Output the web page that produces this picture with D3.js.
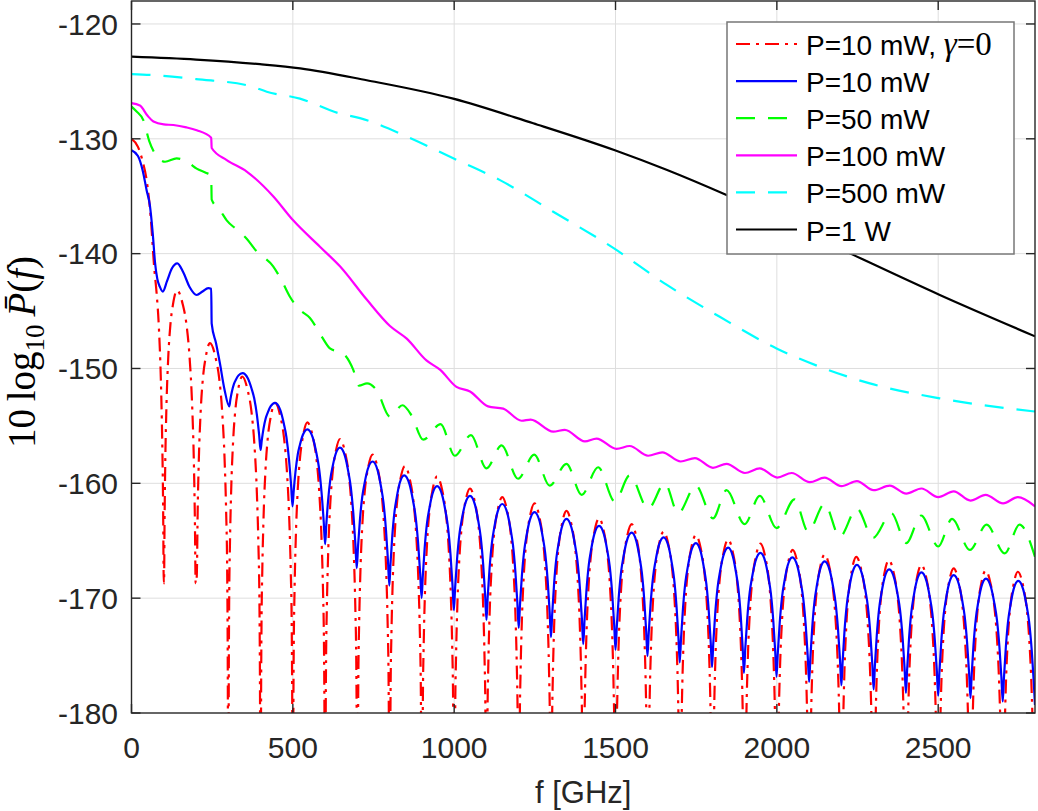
<!DOCTYPE html>
<html>
<head>
<meta charset="utf-8">
<script src="https://cdn.jsdelivr.net/npm/d3@7"></script>
<style>
body { margin: 0; background: #fff; }
svg { display: block; }
</style>
</head>
<body>
<svg width="1038" height="811"></svg>
<script>
/* ---------- values ---------- */
const xTicks = [0, 500, 1000, 1500, 2000, 2500];
const yTicks = [-180, -170, -160, -150, -140, -130, -120];

/* P=10 mW, gamma=0 (red): start of the main lobe, then nulls and lobe peaks */
const redHeadF  = [0, 20, 35, 47, 60, 70, 78, 85, 91, 95, 98];
const redHeadDb = [-130, -130.7, -132, -133.6, -137, -141.1, -143.5, -146.5, -151, -156, -162];
const redNullF = [100, 200, 300, 400, 500, 600, 700, 800, 900, 1000, 1100, 1200, 1300, 1400,
  1500, 1600, 1700, 1800, 1900, 2000, 2100, 2200, 2300, 2400, 2500, 2600, 2700, 2800];
const RED_FLOOR = -240;               // nulls that run off the bottom of the axes
const redNullDb = redNullF.map((f, i) => i < 2 ? -168.7 : RED_FLOOR);
const redPeakF = [141, 243, 343, 445, 545, 646, 747, 847, 947, 1049, 1149, 1249, 1348, 1449,
  1550, 1649, 1749, 1849, 1949, 2049, 2148, 2246, 2347, 2448, 2548, 2647, 2747];
const redPeakDb = [-143.2, -147.8, -150.7, -153.0, -154.7, -156.15, -157.5, -158.5, -159.4, -160.45,
  -161.2, -161.75, -162.4, -163.05, -163.55, -164.2, -164.5, -164.9, -165.25, -165.8, -166.2,
  -166.4, -166.7, -167.1, -167.4, -167.6, -167.7];
/* shape of one red lobe side: fraction of the way null->peak, dB below the peak */
const redSideT    = [0.02, 0.06, 0.12, 0.2, 0.34, 0.5, 0.7];
const redSideDrop = [-34, -20, -14.5, -10.2, -5.8, -3.0, -1.2];

/* P=10 mW (blue): head up to the step, then troughs and peaks */
const blueHeadF  = [0, 20, 35, 47, 57, 66, 73, 80, 88, 97, 110, 125, 142, 160, 180, 202, 220, 238, 247, 248.5, 262, 274, 288];
const blueHeadDb = [-131, -131.5, -132.8, -134.5, -135.8, -138.3, -140.8, -142.2, -142.9, -143.3, -142.4, -141.3,
  -140.85, -141.6, -142.9, -143.6, -143.3, -143.0, -143.05, -146.1, -147.8, -149.55, -151.8];
const blueTroughF = [303, 400, 499, 600, 698, 799, 899, 999, 1100, 1200, 1300, 1400, 1500, 1599,
  1699, 1799, 1898, 1999, 2100, 2200, 2300, 2400, 2500, 2600, 2700, 2800];
const blueTroughDb = [-153.3, -157.1, -162.0, -165.3, -167.4, -168.9, -170.0, -171.05, -171.9, -172.6,
  -173.4, -174.0, -174.5, -175.05, -175.6, -176.0, -176.5, -176.85, -177.3, -177.6, -177.95,
  -178.25, -178.5, -178.7, -179.0, -179.3];
const bluePeakF = [344, 445, 545, 646, 747, 845, 947, 1049, 1149, 1249, 1348, 1449, 1550, 1649,
  1749, 1849, 1949, 2048, 2148, 2248, 2348, 2448, 2548, 2648, 2748];
const bluePeakDb = [-150.4, -153.0, -155.3, -156.9, -158.1, -159.3, -160.25, -161.1, -161.8, -162.5,
  -163.1, -163.7, -164.3, -164.7, -165.2, -165.6, -166.05, -166.45, -166.8, -167.1, -167.5,
  -167.75, -168.0, -168.3, -168.5];
/* shape of one blue lobe side: fraction trough->peak, share of the lobe depth left */
const blueSideT    = [0.08, 0.2, 0.35, 0.5, 0.7];
const blueSideFrac = [0.8, 0.55, 0.33, 0.2, 0.07];

/* P=50 mW (green) */
const greenF = [0, 15, 37, 55, 73, 104, 140, 175, 202, 230, 247, 248.5, 274, 295, 326, 357, 388, 400, 439, 470,
  491, 522, 553, 589, 615, 656, 687, 705, 730, 760, 801, 840, 868, 904, 958, 1002, 1052, 1100, 1147,
  1198, 1248, 1296, 1348, 1395, 1446, 1498, 1544, 1601, 1653, 1694, 1749, 1802, 1844, 1900, 1947,
  1999, 2055, 2097, 2148, 2195, 2248, 2298, 2355, 2401, 2447, 2500, 2543, 2598, 2650, 2706, 2752, 2800];
const greenDb = [-127.2, -127.6, -128.4, -130.2, -131.3, -132.0, -131.7, -132.05, -132.6, -132.95, -133.2,
  -135.3, -136.2, -137.1, -137.9, -138.7, -139.8, -140.1, -141.1, -142.6, -143.75, -144.9, -145.6,
  -147.2, -148.25, -148.7, -150.1, -151.5, -151.3, -151.9, -154.2, -153.2, -154.1, -156.2, -154.85,
  -157.6, -155.8, -158.7, -156.7, -159.6, -157.5, -160.2, -158.3, -161.0, -158.6, -161.6, -159.3,
  -162.2, -160.0, -162.6, -160.2, -163.05, -160.6, -163.55, -161.1, -163.9, -161.4, -164.2, -161.8,
  -164.65, -162.2, -164.75, -162.6, -165.2, -162.8, -165.5, -163.1, -165.8, -163.6, -166.1, -163.6, -166.4];

/* P=100 mW (magenta) */
const magentaF = [0, 26, 50, 68, 100, 130, 170, 202, 247, 248.5, 295, 357, 439, 501, 584, 646, 729, 801,
  853, 914, 956, 1007, 1049, 1105, 1152, 1209, 1237, 1307, 1343, 1405, 1441, 1503, 1544, 1601, 1645,
  1702, 1746, 1802, 1844, 1901, 1947, 2001, 2046, 2102, 2148, 2200, 2248, 2300, 2350, 2401, 2448,
  2500, 2548, 2600, 2647, 2701, 2747, 2800];
const magentaDb = [-126.9, -127.1, -128.0, -128.5, -128.75, -128.8, -129.0, -129.25, -129.9, -130.8,
  -131.85, -132.85, -135.0, -137.1, -139.4, -141.1, -144.0, -146.3, -147.4, -149.3, -150.1, -151.6,
  -152.0, -153.3, -153.5, -154.55, -154.45, -155.5, -155.35, -156.35, -156.1, -157.0, -156.75,
  -157.6, -157.3, -158.1, -157.8, -158.65, -158.3, -159.1, -158.7, -159.5, -159.1, -159.9, -159.5,
  -160.25, -159.8, -160.6, -160.2, -160.9, -160.45, -161.2, -160.7, -161.5, -161.0, -161.75, -161.2, -162.0];

/* P=500 mW (cyan) */
const cyanF  = [0, 68, 200, 367, 419, 522, 646, 708, 853, 997, 1142, 1307, 1493, 1658, 1823, 1999, 2133, 2288, 2505, 2800];
const cyanDb = [-124.36, -124.45, -124.8, -125.4, -125.9, -126.5, -127.8, -128.2, -129.8, -131.7, -133.6,
  -136.35, -139.5, -142.7, -145.5, -148.25, -149.85, -151.3, -152.6, -153.75];

/* P=1 W (black) */
const blackF  = [0, 200, 398, 523, 729, 997, 1245, 1498, 1658, 1844, 2226, 2505, 2800];
const blackDb = [-122.85, -123.1, -123.5, -123.86, -124.9, -126.5, -128.65, -131.0, -132.7, -134.9, -139.97, -143.6, -147.2];

const legendLabels = ["P=10 mW, ", "P=10 mW", "P=50 mW", "P=100 mW", "P=500 mW", "P=1 W"];

/* ---------- helpers ---------- */
function zip(fs, ds) {
	return fs.map((f, i) => ({ f: f, db: ds[i] }));
}

/* walk valley -> peak -> valley ..., adding the lobe-side points in between */
function lobes(valF, valDb, pkF, pkDb, sideT, level) {
	var pts = [];
	for (var i = 0; i < valF.length; i++) {
		pts.push({ f: valF[i], db: valDb[i] });
		if (i >= pkF.length) continue;
		for (var k = 0; k < sideT.length; k++) {
			pts.push({ f: valF[i] + sideT[k] * (pkF[i] - valF[i]), db: level(k, pkDb[i], valDb[i]) });
		}
		pts.push({ f: pkF[i], db: pkDb[i] });
		for (var k = sideT.length - 1; k >= 0; k--) {
			pts.push({ f: valF[i + 1] - sideT[k] * (valF[i + 1] - pkF[i]), db: level(k, pkDb[i], valDb[i + 1]) });
		}
	}
	return pts;
}

const redData = zip(redHeadF, redHeadDb).concat(
	lobes(redNullF, redNullDb, redPeakF, redPeakDb, redSideT,
		(k, pk, val) => Math.max(pk + redSideDrop[k], val)));
const blueData = zip(blueHeadF, blueHeadDb).concat(
	lobes(blueTroughF, blueTroughDb, bluePeakF, bluePeakDb, blueSideT,
		(k, pk, val) => pk + blueSideFrac[k] * (val - pk)));

const series = [
	{ data: redData, color: "#ff0000", dash: "14,6,3,6" },
	{ data: blueData, color: "#0000ff", dash: null },
	{ data: zip(greenF, greenDb), color: "#00ff00", dash: "19,13" },
	{ data: zip(magentaF, magentaDb), color: "#ff00ff", dash: null },
	{ data: zip(cyanF, cyanDb), color: "#00ffff", dash: "19,13" },
	{ data: zip(blackF, blackDb), color: "#000000", dash: null }
];

/* ---------- layout ---------- */
const svg = d3.select("svg");
const plotLeft = 131.5, plotRight = 1035, plotTop = 1, plotBottom = 713;
const axisColor = "#262626";

const xScale = d3.scaleLinear().domain([0, 2800]).range([plotLeft, plotRight]);
const yScale = d3.scaleLinear().domain([-180, -118]).range([plotBottom, plotTop]);

svg.append("defs").append("clipPath").attr("id", "plotClip")
	.append("rect")
	.attr("x", plotLeft).attr("y", plotTop)
	.attr("width", plotRight - plotLeft).attr("height", plotBottom - plotTop);

/* grid */
const grid = svg.append("g").attr("stroke", "#dedede").attr("stroke-width", 1);
grid.selectAll(".gx").data(xTicks.slice(1)).enter().append("line")
	.attr("x1", d => xScale(d)).attr("x2", d => xScale(d))
	.attr("y1", plotTop).attr("y2", plotBottom);
grid.selectAll(".gy").data(yTicks.slice(1)).enter().append("line")
	.attr("x1", plotLeft).attr("x2", plotRight)
	.attr("y1", d => yScale(d)).attr("y2", d => yScale(d));

/* curves */
const lineGenerator = d3.line()
	.x(d => xScale(d.f))
	.y(d => yScale(d.db))
	.curve(d3.curveMonotoneX);

const plot = svg.append("g").attr("clip-path", "url(#plotClip)");
series.forEach(s => {
	plot.append("path")
		.attr("d", lineGenerator(s.data))
		.attr("fill", "none")
		.attr("stroke", s.color)
		.attr("stroke-width", 2.2)
		.attr("stroke-dasharray", s.dash);
});

/* axes box with inward ticks on every side */
const axes = svg.append("g");
axes.append("rect")
	.attr("x", plotLeft).attr("y", plotTop)
	.attr("width", plotRight - plotLeft).attr("height", plotBottom - plotTop)
	.attr("fill", "none").attr("stroke", axisColor).attr("stroke-width", 1.4);

const tickLen = 9;
const tickG = axes.append("g").attr("stroke", axisColor).attr("stroke-width", 1.4);
xTicks.forEach(t => {
	tickG.append("line").attr("x1", xScale(t)).attr("x2", xScale(t)).attr("y1", plotBottom).attr("y2", plotBottom - tickLen);
	tickG.append("line").attr("x1", xScale(t)).attr("x2", xScale(t)).attr("y1", plotTop).attr("y2", plotTop + tickLen);
});
yTicks.forEach(t => {
	tickG.append("line").attr("x1", plotLeft).attr("x2", plotLeft + tickLen).attr("y1", yScale(t)).attr("y2", yScale(t));
	tickG.append("line").attr("x1", plotRight).attr("x2", plotRight - tickLen).attr("y1", yScale(t)).attr("y2", yScale(t));
});

const labelFont = "'Liberation Sans', Arial, Helvetica, sans-serif";
axes.selectAll(".xl").data(xTicks).enter().append("text")
	.attr("x", d => xScale(d)).attr("y", 758)
	.attr("text-anchor", "middle")
	.attr("font-family", labelFont).attr("font-size", 30).attr("fill", axisColor)
	.text(d => d);
axes.selectAll(".yl").data(yTicks).enter().append("text")
	.attr("x", 118).attr("y", d => yScale(d))
	.attr("dy", "0.36em")
	.attr("text-anchor", "end")
	.attr("font-family", labelFont).attr("font-size", 30).attr("fill", axisColor)
	.text(d => d);

svg.append("text")
	.attr("x", (plotLeft + plotRight) / 2).attr("y", 803)
	.attr("text-anchor", "middle")
	.attr("font-family", labelFont).attr("font-size", 31).attr("fill", axisColor)
	.text("f [GHz]");

/* y label: 10 log10 P(f) */
const yLab = svg.append("text")
	.attr("transform", "translate(35, 352) rotate(-90)")
	.attr("text-anchor", "middle")
	.attr("font-family", "'Liberation Serif', 'DejaVu Serif', serif")
	.attr("font-size", 39).attr("fill", "#000");
yLab.append("tspan").text("10\u2009log");
yLab.append("tspan").attr("font-size", 27).attr("dy", 9).text("10");
yLab.append("tspan").attr("dy", -9).text("\u2009");
yLab.append("tspan").attr("font-style", "italic").text("P\u0304");
yLab.append("tspan").text("(");
yLab.append("tspan").attr("font-style", "italic").text("f");
yLab.append("tspan").text(")");

/* legend */
const legend = svg.append("g");
legend.append("rect")
	.attr("x", 727).attr("y", 22).attr("width", 287).attr("height", 232)
	.attr("fill", "#fff").attr("stroke", "#777").attr("stroke-width", 1.5);

series.forEach((s, i) => {
	var base = 55 + i * 37.1;
	legend.append("line")
		.attr("x1", 736).attr("x2", 797)
		.attr("y1", base - 11).attr("y2", base - 11)
		.attr("stroke", s.color).attr("stroke-width", 2.2)
		.attr("stroke-dasharray", s.dash);
	var t = legend.append("text")
		.attr("x", 806).attr("y", base)
		.attr("font-family", labelFont).attr("font-size", 28).attr("fill", "#000")
		.text(legendLabels[i]);
	if (i == 0) {
		t.append("tspan").attr("font-family", "'Liberation Serif', serif").attr("font-size", 33).attr("font-style", "italic").text("\u03b3");
		t.append("tspan").attr("font-family", "'Liberation Serif', serif").attr("font-size", 33).text("=0");
	}
});
</script>
</body>
</html>
